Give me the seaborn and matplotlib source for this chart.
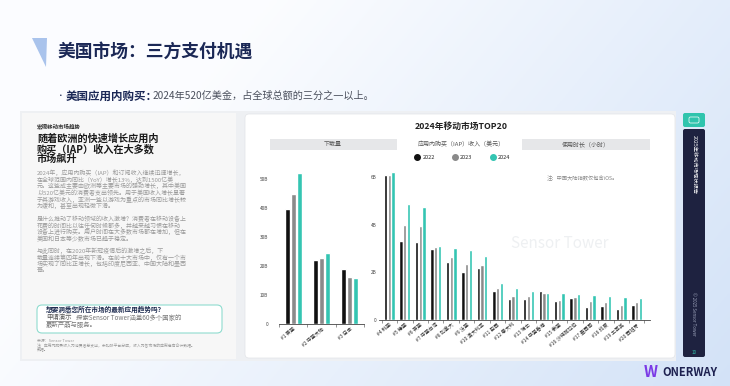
import numpy as np
import pandas as pd
import matplotlib.pyplot as plt
import seaborn as sns
from matplotlib.patches import Rectangle, FancyBboxPatch, Polygon
from matplotlib.lines import Line2D

sns.set_style('white')
plt.rcParams['font.family'] = ['Noto Sans CJK SC', 'DejaVu Sans']

# 数据：2024年移动市场TOP20 应用内购买收入（十亿美元）
years = ['2022', '2023', '2024']
year_colors = ['#111111', '#8a8a8a', '#34c5b2']

top3_markets = ['#1 美国', '#2 中国大陆', '#3 日本']
top3_2022 = [39.6, 22.1, 19.0]
top3_2023 = [44.7, 22.9, 16.3]
top3_2024 = [52.0, 24.6, 16.0]

rest_markets = ['#4 韩国', '#5 德国', '#6 英国', '#7 中国台湾', '#8 加拿大', '#9 法国',
                '#10 澳大利亚', '#11 巴西', '#12 意大利', '#13 瑞士', '#14 中国香港', '#15 泰国',
                '#16 沙特阿拉伯', '#17 墨西哥', '#18 印度', '#19 土耳其', '#20 西班牙']
rest_2022 = [6.09, 3.33, 3.26, 2.97, 2.44, 2.03, 2.17, 1.22, 0.87, 0.88, 1.23, 0.81, 0.91, 0.56, 0.60, 0.46, 0.62]
rest_2023 = [6.09, 3.99, 3.95, 3.05, 2.63, 2.35, 2.30, 1.36, 1.02, 1.00, 1.13, 0.83, 0.98, 0.81, 0.76, 0.64, 0.74]
rest_2024 = [6.23, 4.87, 4.74, 3.11, 3.03, 2.93, 2.68, 1.55, 1.33, 1.22, 1.13, 1.12, 1.09, 1.06, 1.01, 0.97, 0.92]

top3_ticks = [0, 10, 20, 30, 40, 50]
top3_ticklabels = ['0', '10B', '20B', '30B', '40B', '50B']
rest_ticks = [0, 2, 4, 6]
rest_ticklabels = ['0', '2B', '4B', '6B']

page_title = '美国市场：三方支付机遇'
bullet_bold = '美国应用内购买：'
bullet_rest = '2024年520亿美金，占全球总额的三分之一以上。'

panel_kicker = '宏观移动市场趋势'
panel_heading = ['随着欧洲的快速增长应用内', '购买（IAP）收入在大多数', '市场飙升']
panel_paras = [
    ['2024年，应用内购买（IAP）和订阅收入继续迅速增长，',
     '在全球范围内同比（YoY）增长13%，达到1500亿美',
     '元。这些成主要由欧洲等主要市场的强劲增长，其中美国',
     '以520亿美元的消费者支出领先。用于美国收入增长显著',
     '于其游戏收入，亚洲一些以游戏为重点的市场同比增长较',
     '为缓和，甚至出现轻微下滑。'],
    ['是什么推动了移动领域的收入激增？消费者在移动设备上',
     '花费的时间比以往任何时候都多，并越来越习惯在移动',
     '设备上进行购买。用户时间在大多数市场都在增加，但在',
     '美国和日本等少数市场已趋于稳定。'],
    ['与此同时，在2020年新冠疫情后的激增之后，下',
     '载量连续第四年出现下滑。在前十大市场中，仅有一个市',
     '场实现了同比正增长，包括印度尼西亚、中国大陆和墨西',
     '哥。'],
]


def long_df(markets, v22, v23, v24):
    df = pd.DataFrame({'市场': markets, '2022': v22, '2023': v23, '2024': v24})
    return df.melt(id_vars='市场', var_name='年份', value_name='收入')


fig = plt.figure(figsize=(7.3, 3.86), dpi=100)

# 背景层，坐标按像素
bg = fig.add_axes([0, 0, 1, 1])
gx, gy = np.meshgrid(np.linspace(0, 1, 240), np.linspace(0, 1, 130))
t = np.clip(0.8 * gx + 0.35 * gy - 0.3, 0, 1)[..., None]
c0 = np.array([0.985, 0.99, 1.0])
c1 = np.array([0.80, 0.87, 0.965])
bg.imshow(c0 + (c1 - c0) * t, extent=(0, 730, 386, 0), aspect='auto', zorder=0)
bg.set_xlim(0, 730)
bg.set_ylim(386, 0)
bg.axis('off')

bg.add_patch(Polygon([(32, 38), (47, 38), (46, 67)], closed=True, fc='#a9c3ec', ec='none', zorder=1))
bg.text(57, 52, page_title, fontsize=12.8, weight='bold', color='#1b2856', va='center', zorder=2)
bg.text(57, 96.5, '•', fontsize=5.5, color='#1b2856', va='center', zorder=2)
bg.text(66, 96, bullet_bold, fontsize=8.3, weight='bold', color='#1b2856', va='center', zorder=2)
bg.text(153, 96, bullet_rest, fontsize=7.3, weight='medium', color='#4a4f5c', va='center', zorder=2)

# 截图区域
bg.add_patch(Rectangle((20, 111), 656, 250, fc='#eef0f3', ec='none', zorder=1))
bg.add_patch(Rectangle((22, 113), 214, 246, fc='#f7f7f7', ec='none', zorder=1))
bg.add_patch(FancyBboxPatch((245, 114), 430, 244, boxstyle='round,pad=0,rounding_size=4',
                            fc='white', ec='#e2e4e8', lw=0.5, zorder=1))

# 左侧文字面板
bg.text(37, 126.5, panel_kicker, fontsize=4, weight='bold', color='#333333', va='center', zorder=2)
for i, line in enumerate(panel_heading):
    bg.text(37, 139 + i * 10, line, fontsize=7.3, weight='bold', color='#1a1a1a', va='center', zorder=2)
para_starts = [173, 219, 251]
for start, para in zip(para_starts, panel_paras):
    for i, line in enumerate(para):
        bg.text(37, start + i * 6.6, line, fontsize=4.3, color='#9a9a9a', va='center', zorder=2)

bg.add_patch(FancyBboxPatch((37, 305), 185, 28, boxstyle='round,pad=0,rounding_size=5',
                            fc='white', ec='#8fdccf', lw=0.8, zorder=2))
bg.text(46, 309.5, '想要洞悉您所在市场的最新应用趋势吗？', fontsize=4.8, weight='bold',
        color='#1d2b4f', va='center', zorder=3)
bg.text(46, 317.5, '申请演示', fontsize=4.6, color='#555555', va='center', zorder=3)
bg.plot([46, 71], [320.8, 320.8], color='#555555', lw=0.4, zorder=3)
bg.text(76, 317.5, '探索Sensor Tower涵盖60多个国家的', fontsize=4.6, color='#777777', va='center', zorder=3)
bg.text(46, 325.5, '最新产品与服务。', fontsize=4.6, color='#777777', va='center', zorder=3)
bg.text(37, 341, '来源：Sensor Tower', fontsize=2.8, color='#999999', va='center', zorder=2)
bg.text(37, 345.5, '注：应用内购买收入为消费者总支出，未扣除平台分成，收入为各市场的应用商店合计数据。',
        fontsize=2.8, color='#999999', va='center', zorder=2)
bg.text(37, 349.5, '数据。', fontsize=2.8, color='#999999', va='center', zorder=2)

# 图表卡片文字
bg.text(461, 126, '2024年移动市场TOP20', fontsize=6.3, weight='semibold', color='#222222',
        ha='center', va='center', zorder=2)
bg.add_patch(Rectangle((270, 139), 127, 11, fc='#e6e7e9', ec='none', zorder=2))
bg.add_patch(Rectangle((522, 139), 128, 11, fc='#e6e7e9', ec='none', zorder=2))
bg.text(333, 144.5, '下载量', fontsize=4.3, color='#555555', ha='center', va='center', zorder=3)
bg.text(461, 144.5, '应用内购买（IAP）收入（美元）', fontsize=4.3, color='#555555', ha='center', va='center', zorder=3)
bg.text(586, 144.5, '使用时长（小时）', fontsize=4.3, color='#555555', ha='center', va='center', zorder=3)
bg.text(547, 178, '注：中国大陆指数仅包含iOS。', fontsize=3.8, color='#8a8a8a', va='center', zorder=2)
bg.text(560, 243, 'Sensor Tower', fontsize=11, color='#eef0f2', ha='center', va='center', zorder=2)

handles = [Line2D([], [], marker='o', ls='', color=c, markersize=4) for c in year_colors]
fig.legend(handles, years, loc='center', bbox_to_anchor=(462 / 730, 1 - 157.5 / 386), ncol=3,
           frameon=False, fontsize=4, handletextpad=0.4, columnspacing=3.0, handlelength=1.2)

# 右侧深色栏与 logo
bg.add_patch(FancyBboxPatch((683, 129), 22, 228, boxstyle='round,pad=0,rounding_size=2',
                            fc='#1e2240', ec='none', zorder=2))
bg.add_patch(FancyBboxPatch((683, 113), 22, 14, boxstyle='round,pad=0,rounding_size=2',
                            fc='#2fc4ad', ec='none', zorder=2))
bg.add_patch(FancyBboxPatch((689, 117), 10, 6, boxstyle='round,pad=0,rounding_size=1.5',
                            fc='none', ec='white', lw=0.5, zorder=3))
bg.text(694, 135, '2025年移动市场现状报告', fontsize=3.8, color='white', rotation=-90,
        ha='center', va='top', zorder=3)
bg.text(694, 292, '© 2025 Sensor Tower', fontsize=3.2, color='#9aa0b8', rotation=-90,
        ha='center', va='top', zorder=3)
bg.text(694, 352, '10', fontsize=3.2, color='#2fc4ad', ha='center', va='center', zorder=3)
bg.text(651, 372, 'W', fontsize=11, weight='bold', style='italic', color='#7b3ae6',
        ha='center', va='center', zorder=2)
bg.text(662, 373, 'ONERWAY', fontsize=8, weight='black', color='#1d2150', va='center', zorder=2)


def px_axes(x0, y0, x1, y1):
    return fig.add_axes([x0 / 730, 1 - y1 / 386, (x1 - x0) / 730, (y1 - y0) / 386])


def style_bars(ax, markets, ticks, ticklabels, ypad):
    ax.set_facecolor('none')
    sns.despine(ax=ax, left=True)
    ax.spines['bottom'].set_color('#444444')
    ax.spines['bottom'].set_linewidth(0.6)
    ax.set_xlabel('')
    ax.set_ylabel('')
    ax.set_yticks(ticks)
    ax.set_yticklabels(ticklabels)
    ax.set_xticks(range(len(markets)))
    ax.set_xticklabels(markets, rotation=40, ha='right', rotation_mode='anchor')
    ax.set_xticks(np.arange(-0.5, len(markets), 1), minor=True)
    ax.tick_params(axis='y', length=0, labelsize=3.4, labelcolor='#444444', pad=ypad)
    ax.tick_params(axis='x', which='major', length=0, labelsize=3.6, labelcolor='#333333', pad=1.5)
    ax.tick_params(axis='x', which='minor', length=2, width=0.4, color='#444444', bottom=True)


ax1 = px_axes(279, 164.5, 364, 324)
sns.barplot(data=long_df(top3_markets, top3_2022, top3_2023, top3_2024), x='市场', y='收入',
            hue='年份', palette=year_colors, width=0.62, gap=0.15, saturation=1, legend=False, ax=ax1)
ax1.set_xlim(-0.5, 2.5)
ax1.set_ylim(0, 55)
style_bars(ax1, top3_markets, top3_ticks, top3_ticklabels, 8)

ax2 = px_axes(379, 162.7, 650, 320)
sns.barplot(data=long_df(rest_markets, rest_2022, rest_2023, rest_2024), x='市场', y='收入',
            hue='年份', palette=year_colors, width=0.72, gap=0.1, saturation=1, legend=False, ax=ax2)
ax2.set_xlim(-0.67, 16.86)
ax2.set_ylim(0, 6.6)
style_bars(ax2, rest_markets, rest_ticks, rest_ticklabels, 2)

fig.savefig('out.png', dpi=100)
